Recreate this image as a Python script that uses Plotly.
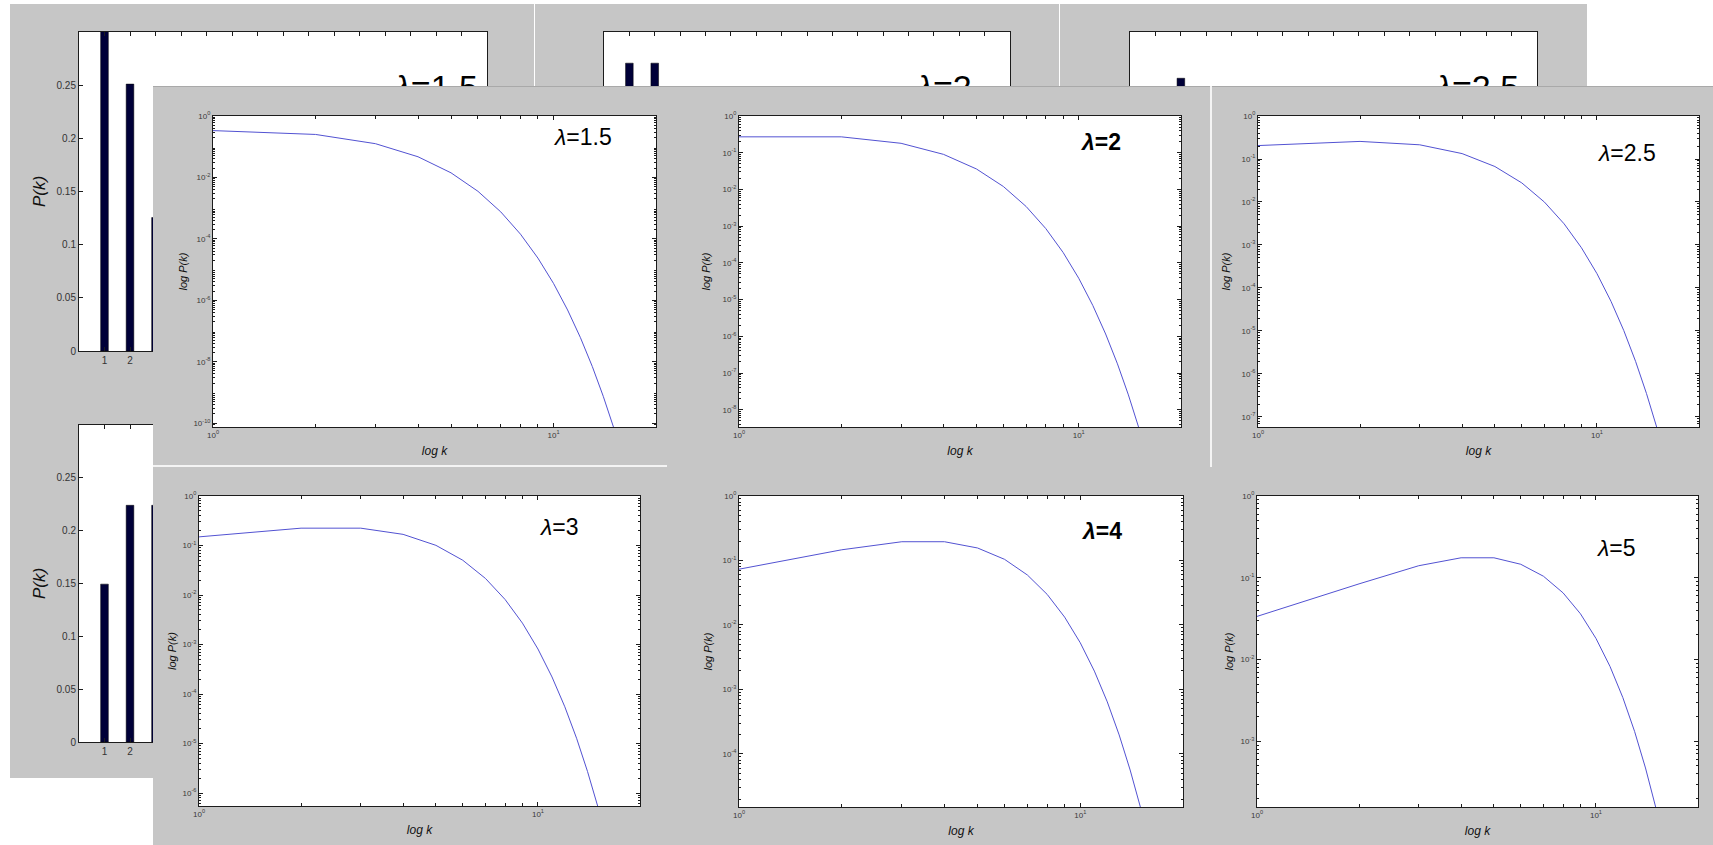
import numpy as np
import plotly.graph_objects as go

# ---------------------------------------------------------------- data
# Poisson probabilities P(k) for k = 1..15
k = list(range(1, 16))
p_lam15 = [3.347e-1, 2.510e-1, 1.255e-1, 4.707e-2, 1.412e-2, 3.530e-3, 7.564e-4, 1.418e-4,
           2.364e-5, 3.546e-6, 4.835e-7, 6.044e-8, 6.974e-9, 7.472e-10, 7.472e-11]
p_lam20 = [2.707e-1, 2.707e-1, 1.804e-1, 9.022e-2, 3.609e-2, 1.203e-2, 3.437e-3, 8.593e-4,
           1.909e-4, 3.819e-5, 6.944e-6, 1.157e-6, 1.780e-7, 2.543e-8, 3.391e-9]
p_lam25 = [2.052e-1, 2.565e-1, 2.138e-1, 1.336e-1, 6.680e-2, 2.783e-2, 9.941e-3, 3.106e-3,
           8.629e-4, 2.157e-4, 4.903e-5, 1.021e-5, 1.964e-6, 3.508e-7, 5.846e-8]
p_lam30 = [1.494e-1, 2.240e-1, 2.240e-1, 1.680e-1, 1.008e-1, 5.041e-2, 2.160e-2, 8.102e-3,
           2.701e-3, 8.102e-4, 2.210e-4, 5.524e-5, 1.275e-5, 2.732e-6, 5.463e-7]
p_lam40 = [7.326e-2, 1.465e-1, 1.954e-1, 1.954e-1, 1.563e-1, 1.042e-1, 5.954e-2, 2.977e-2,
           1.323e-2, 5.292e-3, 1.925e-3, 6.415e-4, 1.974e-4, 5.640e-5, 1.504e-5]
p_lam50 = [3.369e-2, 8.422e-2, 1.404e-1, 1.755e-1, 1.755e-1, 1.462e-1, 1.044e-1, 6.528e-2,
           3.627e-2, 1.813e-2, 8.242e-3, 3.434e-3, 1.321e-3, 4.717e-4, 1.572e-4]

panel_series = [p_lam15, p_lam20, p_lam25, p_lam30, p_lam40, p_lam50]
panel_labels = ["<i>λ</i>=1.5", "<i>λ</i>=2", "<i>λ</i>=2.5", "<i>λ</i>=3", "<i>λ</i>=4", "<i>λ</i>=5"]
panel_ytick_step = [2, 1, 1, 1, 1, 1]

bar_ticks_x = [1, 2]
bar_ticks_y = [0, 0.05, 0.1, 0.15, 0.2, 0.25]
bar_ticklabels_y = ["0", "0.05", "0.1", "0.15", "0.2", "0.25"]

# ---------------------------------------------------------------- style
W, H = 1713, 845
FONT = "Liberation Sans, Arial, sans-serif"
GREY = "#c6c6c6"
AXC = "#1c1c1c"
LINE = "#5252d2"
BAR = "#000038"


def dom_x(a, b):
    return [a / W, b / W]


def dom_y(top, bottom):
    return [1 - bottom / H, 1 - top / H]


def rect(x0, y0, x1, y1, color):
    return dict(type="rect", xref="paper", yref="paper", layer="below",
                x0=x0 / W, x1=x1 / W, y0=1 - y1 / H, y1=1 - y0 / H,
                fillcolor=color, line=dict(width=0))


def hline(x0, x1, y, color, w=2):
    return dict(type="line", xref="paper", yref="paper", layer="below",
                x0=x0 / W, x1=x1 / W, y0=1 - y / H, y1=1 - y / H,
                line=dict(color=color, width=w))


def vline(x, y0, y1, color, w=2):
    return dict(type="line", xref="paper", yref="paper", layer="below",
                x0=x / W, x1=x / W, y0=1 - y1 / H, y1=1 - y0 / H,
                line=dict(color=color, width=w))


fig = go.Figure()
axes_layout = {}
counter = [0]


def new_axes(xdom, ydom, xa, ya):
    counter[0] += 1
    s = "" if counter[0] == 1 else str(counter[0])
    axes_layout["xaxis" + s] = dict(domain=xdom, anchor="y" + s, **xa)
    axes_layout["yaxis" + s] = dict(domain=ydom, anchor="x" + s, **ya)
    return "x" + s, "y" + s


def sup(e):
    return "10<sup>%s</sup>" % e


# ---------------------------------------------------------------- background windows (bar charts)
shapes = [
    rect(10, 4, 534, 778, GREY),
    rect(535, 4, 1059, 86, GREY),
    rect(1060, 4, 1587, 86, GREY),
    rect(79, 32, 487, 351, "white"),
    rect(604, 32, 1010, 86, "white"),
    rect(1130, 32, 1537, 86, "white"),
    rect(79, 425, 487, 742, "white"),
]

bar_xmax = 16
x_cut = bar_xmax * (153 - 79) / (487 - 79)        # k-value at the front window's left edge
y_cut = 0.3 * (351 - 86) / (351 - 32)             # P-value at the front window's top edge
y_title = 0.3 * (351 - 73) / (351 - 32)

base_line = dict(showline=True, linecolor=AXC, linewidth=1, ticks="inside", ticklen=4,
                 tickcolor=AXC, showgrid=False, zeroline=False)
tick_font = dict(family=FONT, size=10, color="#333333")


def bar_trace(vals, xa, ya):
    return go.Bar(x=k, y=vals, width=0.3, xaxis=xa, yaxis=ya,
                  marker=dict(color=BAR, line=dict(color="#000000", width=0.5)),
                  showlegend=False, hoverinfo="skip")


# left strips (visible part left of the front window)
for vals, (top, bottom) in [(p_lam15, (32, 351)), (p_lam30, (425, 742))]:
    xa = dict(range=[0, x_cut], tickvals=bar_ticks_x, ticktext=[str(v) for v in bar_ticks_x],
              mirror="allticks", tickfont=tick_font, **base_line)
    ya = dict(range=[0, 0.3], tickvals=bar_ticks_y, ticktext=bar_ticklabels_y, tickfont=tick_font,
              title=dict(text="<i>P(k)</i>", font=dict(family=FONT, size=17, color="#111"), standoff=6),
              **base_line)
    xr, yr = new_axes(dom_x(79, 153), dom_y(top, bottom), xa, ya)
    fig.add_trace(bar_trace(vals, xr, yr))

# top strips (visible part above the front window)
strips = [
    (p_lam15, 153, 487, [x_cut, bar_xmax], "right", False, panel_labels[0], 14.0),
    (p_lam20, 604, 1010, [0, bar_xmax], "left", True, panel_labels[1], 13.4),
    (p_lam25, 1130, 1537, [0, bar_xmax], "left", True, panel_labels[2], 13.65),
]
for vals, x0, x1, xrng, yside, ymirror, label, tx in strips:
    xa = dict(range=xrng, side="top", tickvals=list(range(1, 16)), showticklabels=False, **base_line)
    ya = dict(range=[y_cut, 0.3], side=yside, mirror="allticks" if ymirror else False,
              tickvals=[0.25], showticklabels=False, **base_line)
    xr, yr = new_axes(dom_x(x0, x1), dom_y(32, 86), xa, ya)
    fig.add_trace(bar_trace(vals, xr, yr))
    fig.add_trace(go.Scatter(x=[tx], y=[y_title], mode="text", text=[label],
                             textposition="bottom center", cliponaxis=True,
                             textfont=dict(family=FONT, size=34, color="#000"),
                             xaxis=xr, yaxis=yr, showlegend=False, hoverinfo="skip"))

# ---------------------------------------------------------------- front window (log-log panels)
shapes += [
    rect(153, 86, 1713, 845, GREY),
    hline(153, 1713, 86.5, "#a9a9a9", 1),
    vline(1211, 86, 467, "#f4f4f4", 2),
    hline(153, 667, 466, "#f4f4f4", 2),
]

FRONT = [
    (213, 656, 116, 427),
    (739, 1181, 116, 427),
    (1258, 1699, 116, 427),
    (199, 640, 496, 806),
    (739, 1183, 496, 807),
    (1257, 1698, 496, 807),
]
TITLE_POS = [(582, 137), (1100, 142), (1626, 153), (559, 527), (1101, 531), (1616, 548)]
TITLE_BOLD = [False, True, False, False, True, False]
YTITLE_STANDOFF = [3, 9, 8, 3, 7, 4]
XTITLE_STANDOFF = [8, 8, 8, 8, 8, 8]

annotations = []
for i, (vals, (x0, x1, y0, y1)) in enumerate(zip(panel_series, FRONT)):
    shapes.append(rect(x0, y0, x1, y1, "white"))
    ylo = float(np.log10(min(vals)))
    step = panel_ytick_step[i]
    exps = list(range(0, int(np.floor(-ylo)) + 1, step))
    ytv = [10.0 ** (-e) for e in exps]
    ytt = [sup("0" if e == 0 else "-%d" % e) for e in exps]
    yminor = [m * 10.0 ** d for d in range(int(np.floor(ylo)), 1) for m in range(2, 10)
              if 10 ** ylo <= m * 10.0 ** d <= 1]
    xa = dict(type="log", range=[0, np.log10(20)], tickvals=[1, 10], ticktext=[sup(0), sup(1)],
              mirror="allticks", tickfont=dict(family=FONT, size=8, color="#3a3a3a"),
              minor=dict(tickvals=[2, 3, 4, 5, 6, 7, 8, 9], ticks="inside", ticklen=3,
                         tickcolor=AXC, showgrid=False),
              title=dict(text="<i>log k</i>", font=dict(family=FONT, size=12, color="#111"),
                         standoff=XTITLE_STANDOFF[i]),
              **base_line)
    ya = dict(type="log", range=[ylo, 0], tickvals=ytv, ticktext=ytt, mirror="allticks",
              tickfont=dict(family=FONT, size=8, color="#3a3a3a"),
              minor=dict(tickvals=yminor, ticks="inside", ticklen=2, tickcolor=AXC, showgrid=False),
              title=dict(text="<i>log P(k)</i>", font=dict(family=FONT, size=11, color="#111"),
                         standoff=YTITLE_STANDOFF[i]),
              **base_line)
    xr, yr = new_axes(dom_x(x0, x1), dom_y(y0, y1), xa, ya)
    fig.add_trace(go.Scatter(x=k, y=vals, mode="lines", line=dict(color=LINE, width=1),
                             xaxis=xr, yaxis=yr, showlegend=False, hoverinfo="skip"))
    tx, ty = TITLE_POS[i]
    label = "<b>%s</b>" % panel_labels[i] if TITLE_BOLD[i] else panel_labels[i]
    annotations.append(dict(text=label, x=tx / W, y=1 - ty / H,
                            xref="paper", yref="paper", showarrow=False,
                            xanchor="center", yanchor="middle",
                            font=dict(family=FONT, size=23, color="#000")))

fig.update_layout(
    template="none",
    width=W, height=H,
    margin=dict(l=0, r=0, t=0, b=0),
    paper_bgcolor="white",
    plot_bgcolor="rgba(0,0,0,0)",
    font=dict(family=FONT),
    showlegend=False,
    shapes=shapes,
    annotations=annotations,
    **axes_layout,
)

fig.write_html("out.html")
